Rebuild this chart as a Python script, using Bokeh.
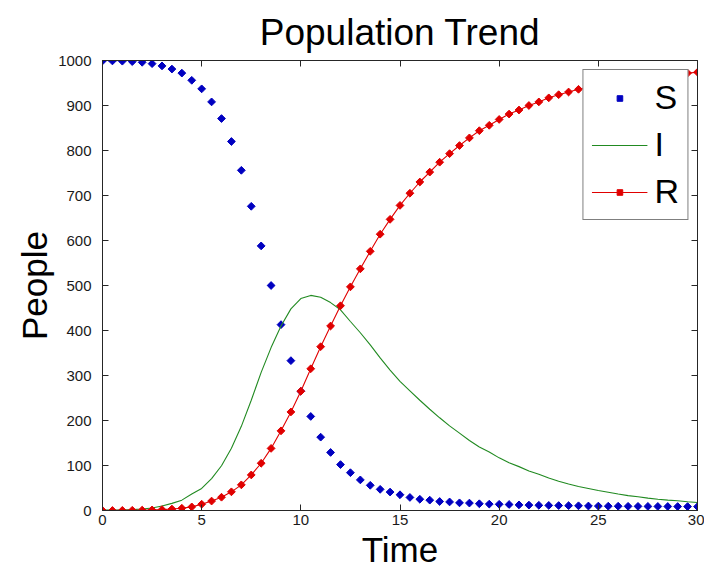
import math
from bokeh.plotting import figure
from bokeh.models import Range1d, LinearAxis, FixedTicker, Legend, LegendItem
from bokeh.embed import file_html
from bokeh.resources import INLINE

time = [0, 0.5, 1, 1.5, 2, 2.5, 3, 3.5, 4, 4.5, 5, 5.5, 6, 6.5, 7, 7.5, 8, 8.5, 9, 9.5,
        10, 10.5, 11, 11.5, 12, 12.5, 13, 13.5, 14, 14.5, 15, 15.5, 16, 16.5, 17, 17.5,
        18, 18.5, 19, 19.5, 20, 20.5, 21, 21.5, 22, 22.5, 23, 23.5, 24, 24.5, 25, 25.5,
        26, 26.5, 27, 27.5, 28, 28.5, 29, 29.5, 30]

S = [999, 999, 998.5, 997.5, 996, 993, 988, 981, 972, 956, 937, 908, 871, 820, 756, 676,
     588, 500, 413, 333, 265, 209, 163, 129, 102, 84, 68, 56, 47, 41, 35, 29, 25, 23, 20,
     19, 17, 16.5, 15, 14.2, 13.8, 13.3, 12.5, 12, 11.6, 11.3, 11, 10.8, 10.5, 10, 9.8,
     9.6, 9.5, 9.3, 9.2, 9.1, 9.0, 8.9, 8.8, 8.7, 8.6]

I = [1, 1, 1.2, 2, 3.2, 5.7, 10, 15.8, 23, 36.5, 49, 71, 99.5, 138.5, 187, 245, 307, 362,
     410, 448, 471, 478, 474, 462, 446, 420, 395, 368, 339, 312, 287, 266, 245, 225, 206,
     188, 172, 155.5, 141, 130, 117, 106, 97.5, 88, 80.5, 72, 65, 59, 53.5, 49, 44.5, 40.5,
     36.5, 33, 30.5, 27.5, 25, 23, 21.5, 19.5, 17.7]

R = [0, 0.1, 0.3, 0.5, 0.8, 1.3, 2, 3.2, 5, 8, 14, 21, 29.5, 41.5, 57, 79, 105, 138, 177,
     219, 265, 315, 364, 410, 455, 497, 537, 576, 614, 647, 678, 705, 730, 752, 774, 793,
     811, 828, 844, 856, 869, 881, 890, 900, 908, 917, 924, 930, 936, 941, 946, 950, 954,
     957.5, 960.5, 963.5, 966, 968, 970, 972, 974]

x_ticks = [0, 5, 10, 15, 20, 25, 30]
y_ticks = [0, 100, 200, 300, 400, 500, 600, 700, 800, 900, 1000]

FONT = "Liberation Sans"
AX = "#262626"

p = figure(width=704, height=571, output_backend="svg", toolbar_location=None,
           x_range=Range1d(0, 30), y_range=Range1d(0, 1000),
           min_border_left=102, min_border_right=7, min_border_top=60, min_border_bottom=60,
           x_axis_label="Time", y_axis_label="People", title="Population Trend")

p.grid.visible = False
p.outline_line_color = AX
p.outline_line_width = 1
p.background_fill_color = "white"
p.border_fill_color = "white"

p.title.text_font = FONT
p.title.text_font_size = "37px"
p.title.text_font_style = "normal"
p.title.align = "center"
p.title.text_color = "black"
p.title.standoff = 16
p.title.offset = 0

for ax, ticks in ((p.xaxis[0], x_ticks), (p.yaxis[0], y_ticks)):
    ax.ticker = FixedTicker(ticks=ticks)
    ax.minor_tick_line_color = None
    ax.major_tick_in = 6
    ax.major_tick_out = 0
    ax.axis_line_color = AX
    ax.major_tick_line_color = AX
    ax.major_label_text_font = FONT
    ax.major_label_text_font_size = "15px"
    ax.major_label_text_color = "#1a1a1a"
    ax.axis_label_text_font = FONT
    ax.axis_label_text_font_size = "35px"
    ax.axis_label_text_font_style = "normal"
    ax.axis_label_text_color = "black"
    ax.axis_label_text_line_height = 1.0

p.xaxis[0].major_label_standoff = 4
p.xaxis[0].axis_label_standoff = 2
p.yaxis[0].major_label_standoff = 11
p.yaxis[0].axis_label_standoff = 1

for side, ticks in (("above", x_ticks), ("right", y_ticks)):
    ax = LinearAxis(ticker=FixedTicker(ticks=ticks))
    ax.minor_tick_line_color = None
    ax.major_tick_in = 6
    ax.major_tick_out = 0
    ax.axis_line_color = AX
    ax.major_tick_line_color = AX
    ax.major_label_text_font_size = "0px"
    ax.major_label_standoff = 0
    ax.major_label_text_color = None
    p.add_layout(ax, side)

s_r = p.scatter(time, S, marker="square", size=5.5, angle=math.pi / 4, color="#0000c0")
i_r = p.line(time, I, line_color="#218a21", line_width=1.1)
r_line = p.line(time, R, line_color="#e00000", line_width=1.1)
r_pts = p.scatter(time, R, marker="square", size=5.5, angle=math.pi / 4, color="#e00000")

legend = Legend(items=[LegendItem(label="S", renderers=[s_r]),
                       LegendItem(label="I", renderers=[i_r]),
                       LegendItem(label="R", renderers=[r_line, r_pts])],
                location="top_right")
legend.margin = 9
legend.padding = 8
legend.spacing = 8
legend.glyph_width = 56
legend.glyph_height = 14
legend.label_height = 34
legend.label_standoff = 7
legend.label_text_font = FONT
legend.label_text_font_size = "34px"
legend.label_text_line_height = 1.0
legend.label_text_color = "black"
legend.border_line_color = "black"
legend.border_line_width = 1
legend.background_fill_color = "white"
legend.background_fill_alpha = 1
p.add_layout(legend)

open("out.html", "w").write(file_html(p, INLINE))
